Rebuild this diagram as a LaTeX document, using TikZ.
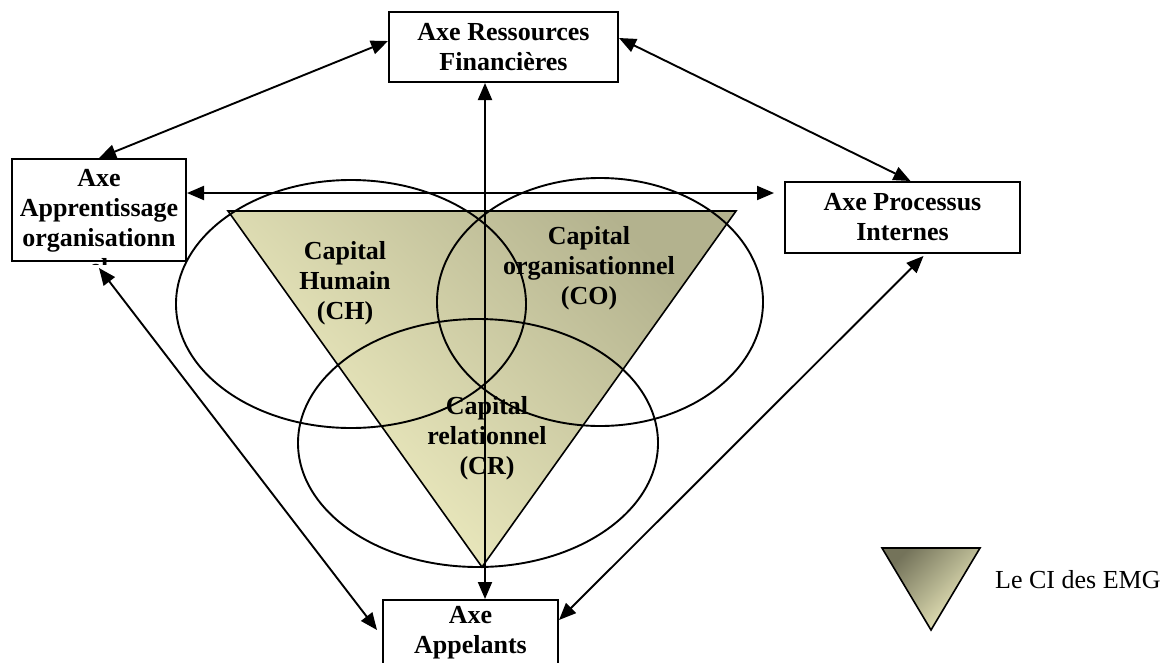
\documentclass[tikz,border=0pt]{standalone}
\usepackage{fontspec}
\setmainfont{Liberation Serif}
\usetikzlibrary{arrows.meta}
\definecolor{coredark}{HTML}{B3B28E}
\definecolor{corelight}{HTML}{F5F3C6}
\definecolor{legdark}{HTML}{74735A}
\definecolor{leglight}{HTML}{F3F1C3}
\begin{document}
\begin{tikzpicture}[x=1pt,y=-1pt,
  axebox/.style={draw, line width=2pt, fill=white, align=center, inner sep=0pt,
    font=\bfseries\fontsize{26}{30}\selectfont},
  captext/.style={align=center, inner sep=0pt, font=\bfseries\fontsize{26}{30}\selectfont},
  outline/.style={line width=1.9pt},
  link/.style={line width=1.9pt,
    {Triangle[length=17pt,width=14pt]}-{Triangle[length=17pt,width=14pt]}},
]
\useasboundingbox (0,0) rectangle (1166,662);
\clip (0,0) rectangle (1166,662);

% intellectual capital triangle
\path[draw, line width=1.6pt, top color=coredark, bottom color=corelight, shading angle=-45]
  (228,211) -- (736,211) -- (482,567) -- cycle;

% the three capital ellipses
\draw[outline] (351,304) ellipse [x radius=175pt, y radius=124pt];
\draw[outline] (600,302) ellipse [x radius=163pt, y radius=124pt];
\draw[outline] (478,443) ellipse [x radius=180pt, y radius=124pt];

% axis boxes
\node[axebox, minimum width=229pt, minimum height=70pt] (fin) at (503.5,47) {Axe Ressources\\Financières};
\node[axebox, minimum width=174pt, minimum height=102pt] (app) at (99,210) {};
\begin{scope}
  \clip (12,159) rectangle (186,264);
  \node[captext] (apptext) at (99,223) {Axe\\Apprentissage\\organisationn\\el};
\end{scope}
\node[axebox, minimum width=235pt, minimum height=71pt] (proc) at (902.5,217.5) {Axe Processus\\Internes};
\node[axebox, minimum width=175pt, minimum height=66pt] (appel) at (470.5,633) {Axe\\Appelants};

% capital labels
\node[captext] (ch) at (345,283) {Capital\\Humain\\(CH)};
\node[captext] (co) at (589,268) {Capital\\organisationnel\\(CO)};
\node[captext] (cr) at (487,438) {Capital\\relationnel\\(CR)};

% links between the axes
\draw[link] ([yshift=6pt]fin.west) -- (app.north);
\draw[link] ([yshift=9pt]fin.east) -- ([xshift=8pt]proc.north);
\draw[link] ([xshift=-18.5pt]fin.south) -- ([xshift=14.5pt]appel.north);
\draw[link] ([yshift=17pt]app.east) -- ([xshift=-10pt,yshift=24.5pt]proc.west);
\draw[link] ([yshift=-6pt]app.south) -- ([xshift=-5pt,yshift=3pt]appel.west);
\draw[link] ([xshift=21pt,yshift=-2pt]proc.south) -- ([yshift=13pt]appel.east);

% legend
\path[draw, line width=1.6pt, top color=legdark, bottom color=leglight, shading angle=45]
  (882,548) -- (980,548) -- (931,630) -- cycle;
\node[anchor=west, inner sep=0pt, font=\fontsize{26}{30}\selectfont] (legend) at (995,580) {Le CI des EMG};
\end{tikzpicture}
\end{document}
